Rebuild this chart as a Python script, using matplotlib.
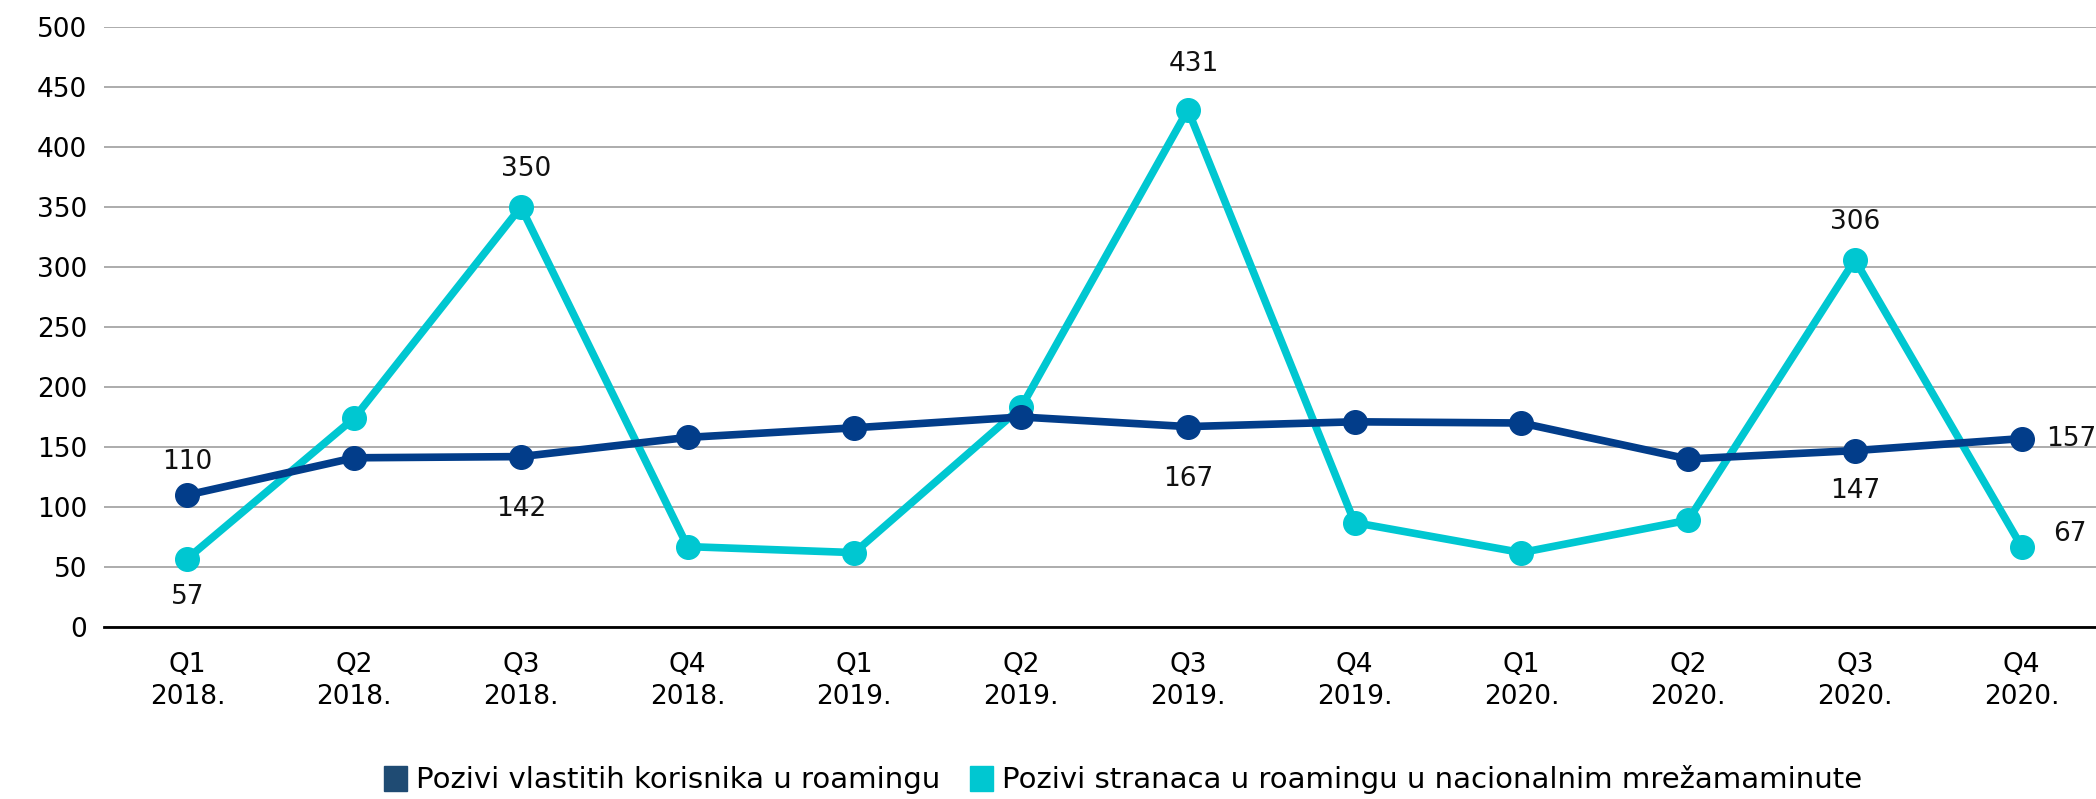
import matplotlib.pyplot as plt
from matplotlib.patches import Patch

# quarters on the x axis
quarters = ['Q1\n2018.', 'Q2\n2018.', 'Q3\n2018.', 'Q4\n2018.',
            'Q1\n2019.', 'Q2\n2019.', 'Q3\n2019.', 'Q4\n2019.',
            'Q1\n2020.', 'Q2\n2020.', 'Q3\n2020.', 'Q4\n2020.']

# values
vlastiti = [110, 141, 142, 158, 166, 175, 167, 171, 170, 140, 147, 157]
stranci = [57, 174, 350, 67, 62, 183, 431, 87, 62, 89, 306, 67]

label_vlastiti = 'Pozivi vlastitih korisnika u roamingu'
label_stranci = 'Pozivi stranaca u roamingu u nacionalnim mrežamaminute'

# which points carry a value label and where (dx, dy in points)
vlastiti_labels = {0: (0, 24), 2: (0, -38), 6: (0, -38), 10: (0, -29), 11: (36, 0)}
stranci_labels = {0: (0, -28), 2: (4, 27), 6: (4, 33), 10: (0, 27), 11: (35, 9)}

navy = '#023D8A'
cyan = '#00C7D1'

plt.rcParams['font.family'] = ['DejaVu Sans']

fig = plt.figure(figsize=(20.96, 7.99), dpi=100)
ax = fig.add_axes([104 / 2096, 172 / 799, 2001 / 2096, 600 / 799])

x = list(range(len(quarters)))
ax.plot(x, stranci, color=cyan, lw=5.5, marker='o', ms=17, zorder=3)
ax.plot(x, vlastiti, color=navy, lw=5.5, marker='o', ms=17, zorder=4)

for i, (dx, dy) in vlastiti_labels.items():
    ax.annotate(str(vlastiti[i]), (i, vlastiti[i]), xytext=(dx, dy), textcoords='offset points',
                ha='center', va='center', fontsize=19, color='#111111')
for i, (dx, dy) in stranci_labels.items():
    ax.annotate(str(stranci[i]), (i, stranci[i]), xytext=(dx, dy), textcoords='offset points',
                ha='center', va='center', fontsize=19, color='#111111')

ax.set_xlim(-0.5, len(quarters) - 0.5)
ax.set_ylim(0, 500)
ax.set_yticks(range(0, 501, 50))
ax.set_xticks(x)
ax.set_xticklabels(quarters, fontsize=19, linespacing=1.3)
ax.tick_params(axis='y', labelsize=19, length=0, pad=12)
ax.tick_params(axis='x', length=0, pad=18)

ax.grid(axis='y', color='#A6A6A6', lw=1.3)
ax.set_axisbelow(True)
for side in ['top', 'right', 'left']:
    ax.spines[side].set_visible(False)
ax.spines['bottom'].set_color('black')
ax.spines['bottom'].set_linewidth(2)
ax.spines['bottom'].set_zorder(2)

handles = [Patch(color='#1F4B73', label=label_vlastiti), Patch(color=cyan, label=label_stranci)]
fig.legend(handles=handles, loc='center', bbox_to_anchor=(1123 / 2096, 1 - 780 / 799), ncol=2,
           frameon=False, handlelength=0.8, handleheight=0.9, handletextpad=0.3,
           columnspacing=1.0, prop={'family': 'DejaVu Sans', 'size': 21})

fig.savefig('out.png', dpi=100)
